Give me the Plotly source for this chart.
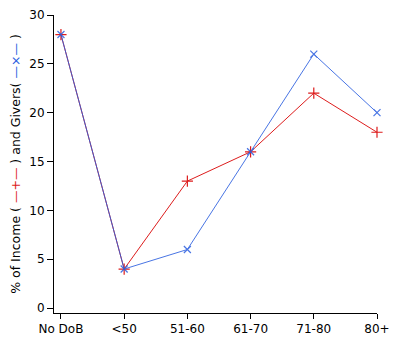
import plotly.graph_objects as go

categories = ["No DoB", "<50", "51-60", "61-70", "71-80", "80+"]
income_pct = [28, 4, 13, 16, 22, 18]
givers_pct = [28, 4, 6, 16, 26, 20]
y_ticks = [0, 5, 10, 15, 20, 25, 30]

RED = "#dd1c1c"
BLUE = "#2a5ee0"

x_idx = list(range(len(categories)))

fig = go.Figure()
fig.add_trace(go.Scatter(
    x=x_idx, y=income_pct, mode="lines+markers",
    line=dict(color=RED, width=1),
    marker=dict(symbol="cross-thin", size=8, line=dict(color=RED, width=1.2)),
    cliponaxis=False,
    showlegend=False,
))
fig.add_trace(go.Scatter(
    x=x_idx, y=givers_pct, mode="lines+markers",
    line=dict(color=BLUE, width=1),
    marker=dict(symbol="x-thin", size=7, line=dict(color=BLUE, width=1.2)),
    opacity=0.85,
    cliponaxis=False,
    showlegend=False,
))

title = ("% of Income ( <span style='color:" + RED + "'>—+—</span> ) and Givers( "
         "<span style='color:" + BLUE + "'>—×—</span> )")

fig.update_layout(
    width=406, height=352,
    margin=dict(l=46, r=37, t=7, b=47, autoexpand=False),
    paper_bgcolor="white", plot_bgcolor="white",
    font=dict(family="DejaVu Sans", size=12, color="black"),
    xaxis=dict(
        range=[-0.11, 5], tickmode="array", tickvals=x_idx, ticktext=categories,
        showgrid=False, zeroline=False, showline=True, linecolor="black", linewidth=1,
        ticks="outside", ticklen=5, tickcolor="black", automargin=False,
    ),
    yaxis=dict(
        range=[-0.5, 30], tickmode="array", tickvals=y_ticks,
        showgrid=False, zeroline=False, showline=True, linecolor="black", linewidth=1,
        ticks="outside", ticklen=6, tickcolor="black", automargin=False,
        title=dict(text=title, font=dict(size=12.5), standoff=14),
    ),
)

fig.write_html("out.html")
